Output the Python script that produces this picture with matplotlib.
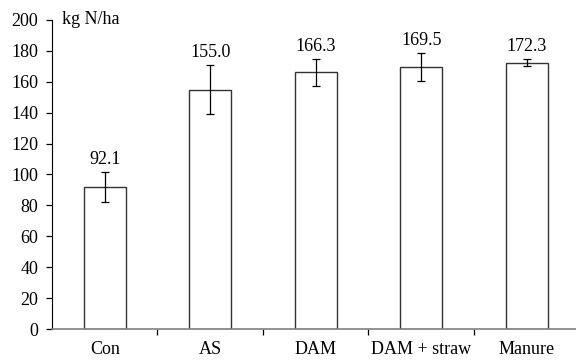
import matplotlib
matplotlib.use('Agg')
import matplotlib.pyplot as plt
import numpy as np

categories = ['Con', 'AS', 'DAM', 'DAM + straw', 'Manure']
values = [92.1, 155.0, 166.3, 169.5, 172.3]
errors = [9.8, 16.0, 8.7, 9.2, 2.3]
value_labels = ['92.1', '155.0', '166.3', '169.5', '172.3']

plt.rcParams['font.family'] = ['Liberation Serif', 'DejaVu Serif']
plt.rcParams['font.size'] = 13

fig = plt.figure(figsize=(5.76, 3.63), dpi=100)
ax = fig.add_axes([52/576, 34/363, 524/576, 309/363])

x = np.arange(len(categories))
ax.bar(x, values, width=0.4, color='white', edgecolor='#333333', linewidth=1.0, zorder=2)
ax.errorbar(x, values, yerr=errors, fmt='none', ecolor='black', elinewidth=0.9,
            capsize=3, capthick=0.9, zorder=3)

for xi, v, e, lab in zip(x, values, errors, value_labels):
    ax.text(xi, v + e + 8, lab, ha='center', va='center')

ax.set_xlim(-0.5, 4.467)
ax.set_ylim(0, 200)
ax.set_yticks(range(0, 201, 20))
ax.set_xticks(x)
ax.set_xticklabels(categories)
ax.set_xticks(x[:-1] + 0.5, minor=True)
ax.tick_params(axis='x', which='major', length=0, pad=9)
ax.tick_params(axis='x', which='minor', length=4, direction='out', width=0.9)
ax.tick_params(axis='y', length=4, direction='out', width=0.9, pad=6)

ax.spines['top'].set_visible(False)
ax.spines['right'].set_visible(False)
ax.spines['left'].set_color('black')
ax.spines['bottom'].set_color('#808080')
ax.spines['bottom'].set_linewidth(1.2)

ax.text(0.02, 1.0, 'kg N/ha', transform=ax.transAxes, ha='left', va='center')

fig.savefig('out.png', dpi=100)
